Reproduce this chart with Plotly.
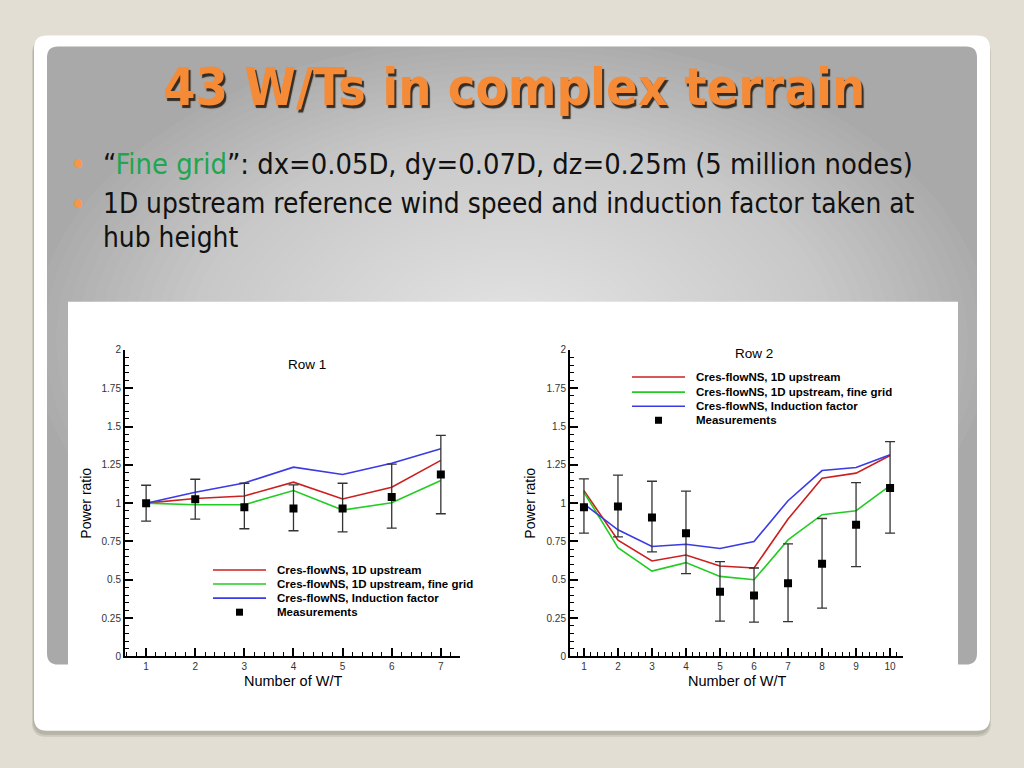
import plotly.graph_objects as go

W, H = 1024, 768

# ---------------- data ----------------
wt_row1 = [1, 2, 3, 4, 5, 6, 7]
row1_1d = [1.0, 1.03, 1.047, 1.137, 1.027, 1.104, 1.279]
row1_fine = [1.0, 0.99, 0.99, 1.082, 0.955, 1.003, 1.148]
row1_ind = [1.0, 1.071, 1.132, 1.235, 1.187, 1.261, 1.355]
row1_meas = [1.0, 1.025, 0.973, 0.966, 0.966, 1.04, 1.187]
row1_hi = [1.117, 1.156, 1.13, 1.119, 1.13, 1.255, 1.443]
row1_lo = [0.883, 0.896, 0.833, 0.82, 0.813, 0.837, 0.931]

wt_row2 = [1, 2, 3, 4, 5, 6, 7, 8, 9, 10]
row2_1d = [1.082, 0.758, 0.623, 0.662, 0.59, 0.577, 0.896, 1.163, 1.196, 1.311]
row2_fine = [1.071, 0.71, 0.557, 0.612, 0.522, 0.50, 0.76, 0.925, 0.951, 1.115]
row2_ind = [0.995, 0.826, 0.717, 0.732, 0.704, 0.75, 1.016, 1.213, 1.233, 1.316]
row2_meas = [0.973, 0.979, 0.907, 0.804, 0.422, 0.398, 0.477, 0.605, 0.859, 1.099]
row2_hi = [1.158, 1.183, 1.143, 1.078, 0.619, 0.577, 0.734, 0.90, 1.134, 1.401]
row2_lo = [0.804, 0.78, 0.682, 0.54, 0.23, 0.223, 0.227, 0.315, 0.586, 0.804]

series_names = ["Cres-flowNS, 1D upstream", "Cres-flowNS, 1D upstream, fine grid",
                "Cres-flowNS, Induction factor", "Measurements"]
series_colors = ["#cc1f1f", "#22cc22", "#3a3ae6", "#000000"]

y_tickvals = [0, 0.25, 0.5, 0.75, 1, 1.25, 1.5, 1.75, 2]
y_ticktext = ["0", "0.25", "0.5", "0.75", "1", "1.25", "1.5", "1.75", "2"]

slide_title = "43 W/Ts in complex terrain"
bullet1 = '“<span style="color:#21a550">Fine grid</span>”: dx=0.05D, dy=0.07D, dz=0.25m (5 million nodes)'
bullet2 = "1D upstream reference wind speed and induction factor taken at"
bullet2b = "hub height"
panel_titles = ["Row 1", "Row 2"]
x_title = "Number of W/T"
y_title = "Power ratio"

# the captured page comes out slightly squeezed vertically; pre-compensate
V_OFF, V_SC = 6.7, 0.981


def X(px):
    return px / W


def Y(py):
    return 1 - ((py - V_OFF) / V_SC) / H


def rrect(x0, y0, x1, y1, r):
    p = [
        f"M {X(x0 + r)},{Y(y0)}",
        f"L {X(x1 - r)},{Y(y0)}",
        f"Q {X(x1)},{Y(y0)} {X(x1)},{Y(y0 + r)}",
        f"L {X(x1)},{Y(y1 - r)}",
        f"Q {X(x1)},{Y(y1)} {X(x1 - r)},{Y(y1)}",
        f"L {X(x0 + r)},{Y(y1)}",
        f"Q {X(x0)},{Y(y1)} {X(x0)},{Y(y1 - r)}",
        f"L {X(x0)},{Y(y0 + r)}",
        f"Q {X(x0)},{Y(y0)} {X(x0 + r)},{Y(y0)}",
        "Z",
    ]
    return " ".join(p)


fig = go.Figure()


def add_panel(xs, d1, dfine, dind, meas, hi, lo, xa, ya):
    for vals, col in zip([d1, dfine, dind], series_colors[:3]):
        fig.add_trace(go.Scatter(x=xs, y=vals, mode="lines", xaxis=xa, yaxis=ya,
                                 line=dict(color=col, width=1.6), showlegend=False,
                                 hoverinfo="skip"))
    fig.add_trace(go.Scatter(
        x=xs, y=meas, mode="markers", xaxis=xa, yaxis=ya, showlegend=False,
        marker=dict(symbol="square", size=8, color="black"),
        error_y=dict(type="data", symmetric=False,
                     array=[h - m for h, m in zip(hi, meas)],
                     arrayminus=[m - l for m, l in zip(meas, lo)],
                     color="#333333", thickness=1.3, width=5),
        hoverinfo="skip"))


add_panel(wt_row1, row1_1d, row1_fine, row1_ind, row1_meas, row1_hi, row1_lo, "x", "y")
add_panel(wt_row2, row2_1d, row2_fine, row2_ind, row2_meas, row2_hi, row2_lo, "x2", "y2")

tickfont = dict(family="Liberation Sans, Arial, sans-serif", size=10, color="#333333")
common = dict(showline=True, linecolor="black", linewidth=2, ticks="inside", ticklen=8,
              tickwidth=1.5, tickcolor="black", showgrid=False, zeroline=False,
              tickfont=tickfont, fixedrange=True)

xa_common = dict(common, tickmode="linear", tick0=1, dtick=1,
                 minor=dict(ticks="inside", ticklen=4, tickwidth=1, tickcolor="black",
                            tick0=0, dtick=0.2, showgrid=False))
ya_common = dict(common, tickmode="array", tickvals=y_tickvals, ticktext=y_ticktext,
                 range=[0, 2],
                 minor=dict(ticks="inside", ticklen=4, tickwidth=1, tickcolor="black",
                            tick0=0, dtick=0.05, showgrid=False))

ydom = [Y(655), Y(350)]

fig.update_layout(
    width=W, height=H, margin=dict(l=0, r=0, t=0, b=0),
    paper_bgcolor="#e2ded3", plot_bgcolor="rgba(0,0,0,0)",
    xaxis=dict(xa_common, domain=[X(125), X(460)], range=[0.57, 7.39], anchor="y"),
    yaxis=dict(ya_common, domain=ydom, anchor="x"),
    xaxis2=dict(xa_common, domain=[X(570), X(903)], range=[0.59, 10.38], anchor="y2"),
    yaxis2=dict(ya_common, domain=ydom, anchor="x2"),
)

# ---------------- slide backdrop ----------------
shapes = []
shapes.append(dict(type="path", path=rrect(32, 41, 991, 735, 14), xref="paper", yref="paper",
                   fillcolor="rgba(90,85,70,0.16)", line=dict(width=0), layer="below"))
shapes.append(dict(type="path", path=rrect(33, 39, 990, 733, 14), xref="paper", yref="paper",
                   fillcolor="rgba(90,85,70,0.18)", line=dict(width=0), layer="below"))
shapes.append(dict(type="path", path=rrect(34, 37, 990, 729, 13), xref="paper", yref="paper",
                   fillcolor="#ffffff", line=dict(width=0), layer="below"))
shapes.append(dict(type="path", path=rrect(47, 48, 977, 663, 11), xref="paper", yref="paper",
                   fillcolor="#a9a9a9", line=dict(width=0), layer="below"))
# smooth radial lightening of the grey panel (decoration)
cx, cy, hw, hh = 512, 340, 478, 303
n_steps = 40
for k in range(n_steps):
    s = 1.0 - 0.9 * k / (n_steps - 1)
    shapes.append(dict(type="circle", xref="paper", yref="paper",
                       x0=X(cx - hw * s), x1=X(cx + hw * s),
                       y0=Y(cy + hh * s), y1=Y(cy - hh * s),
                       fillcolor="rgba(255,255,255,0.034)", line=dict(width=0), layer="below"))
shapes.append(dict(type="rect", xref="paper", yref="paper", x0=X(68), x1=X(958),
                   y0=Y(705), y1=Y(302), fillcolor="#ffffff", line=dict(width=0), layer="below"))

# ---------------- legends (keys) ----------------
chart_font = "Liberation Sans, Arial, sans-serif"
annotations = []


def add_legend(x_line0, x_line1, x_text, rows):
    for i, (name, col) in enumerate(zip(series_names, series_colors)):
        yy = rows[i]
        if i < 3:
            shapes.append(dict(type="line", xref="paper", yref="paper",
                               x0=X(x_line0), x1=X(x_line1), y0=Y(yy), y1=Y(yy),
                               line=dict(color=col, width=1.6), layer="above"))
        else:
            xc = (x_line0 + x_line1) / 2
            shapes.append(dict(type="rect", xref="paper", yref="paper",
                               x0=X(xc - 3.5), x1=X(xc + 3.5), y0=Y(yy + 3.5), y1=Y(yy - 3.5),
                               fillcolor="black", line=dict(width=0), layer="above"))
        annotations.append(dict(text=name, xref="paper", yref="paper", x=X(x_text), y=Y(yy),
                                xanchor="left", yanchor="middle", showarrow=False,
                                font=dict(family=chart_font, size=11.5, color="black",
                                          weight="bold")))


add_legend(213, 266, 275, [569, 583, 597, 611])
add_legend(632, 685, 694, [377, 392, 406, 420])

# ---------------- chart texts ----------------
for txt, px, py in [(panel_titles[0], 307, 364), (panel_titles[1], 754, 354)]:
    annotations.append(dict(text=txt, xref="paper", yref="paper", x=X(px), y=Y(py),
                            xanchor="center", yanchor="middle", showarrow=False,
                            font=dict(family=chart_font, size=13.5, color="black")))
for px in [293, 737]:
    annotations.append(dict(text=x_title, xref="paper", yref="paper", x=X(px), y=Y(679),
                            xanchor="center", yanchor="middle", showarrow=False,
                            font=dict(family=chart_font, size=14.5, color="black")))
for px in [86, 530]:
    annotations.append(dict(text=y_title, xref="paper", yref="paper", x=X(px), y=Y(503),
                            xanchor="center", yanchor="middle", showarrow=False, textangle=-90,
                            font=dict(family=chart_font, size=14, color="black")))

# ---------------- slide texts ----------------
title_font = "DejaVu Sans Condensed, DejaVu Sans, sans-serif"
title_size = 52
annotations.append(dict(text=slide_title, xref="paper", yref="paper", x=X(514), y=Y(88),
                        xanchor="center", yanchor="middle", showarrow=False,
                        font=dict(family=title_font, size=title_size, color="#f58a37",
                                  weight="bold",
                                  shadow="2px 3px 1px rgba(40,30,20,0.9)")))
for py in [165, 205]:
    annotations.append(dict(text="•", xref="paper", yref="paper", x=X(78), y=Y(py),
                            xanchor="center", yanchor="middle", showarrow=False,
                            font=dict(family=title_font, size=30, color="#f79646")))
for txt, py, fs in [(bullet1, 165, 28.8), (bullet2, 204, 27.8), (bullet2b, 238, 27.8)]:
    annotations.append(dict(text=txt, xref="paper", yref="paper", x=X(101), y=Y(py),
                            xanchor="left", yanchor="middle", showarrow=False,
                            font=dict(family=title_font, size=fs, color="#111111")))

fig.update_layout(shapes=shapes, annotations=annotations)

post = (
    "document.documentElement.style.margin='0';"
    "document.documentElement.style.overflow='hidden';"
    "document.body.style.margin='0';"
    "document.body.style.overflow='hidden';"
    "var gd=document.querySelector('.plotly-graph-div');"
    "if(gd){gd.style.position='fixed';gd.style.left='0px';gd.style.top='0px';}"
)
fig.write_html("out.html", config={"displayModeBar": False}, post_script=post)
